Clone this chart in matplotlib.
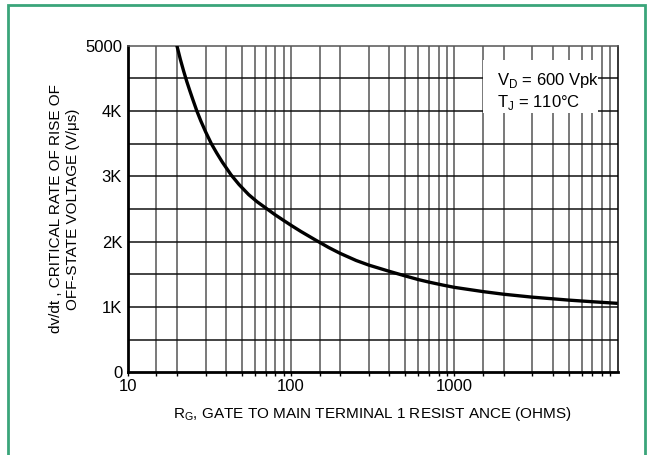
import matplotlib.pyplot as plt
from matplotlib.patches import Rectangle
from matplotlib.ticker import FixedLocator, NullFormatter

# curve
rg_ohms = [20, 21, 22, 23, 24, 25, 26.5, 28, 30, 32.5, 35, 38, 43, 48, 55,
           62, 70, 80, 90, 100, 115, 140, 170, 200, 250, 300, 400, 500, 600,
           700, 850, 1000, 1500, 2000, 3000, 4000, 5000, 7000, 10000]
dvdt = [5000, 4790, 4610, 4450, 4310, 4180, 4000, 3850, 3680, 3500, 3360,
        3215, 3020, 2875, 2720, 2610, 2515, 2410, 2325, 2250, 2155, 2030,
        1910, 1820, 1712, 1640, 1545, 1475, 1420, 1380, 1335, 1300, 1235,
        1195, 1150, 1125, 1105, 1080, 1055]

y_ticks = [0, 1000, 2000, 3000, 4000, 5000]
y_labels = ["0", "1K", "2K", "3K", "4K", "5000"]
x_ticks = [10, 100, 1000]
x_labels = ["10", "100", "1000"]
x_grid = [15, 20, 30, 40, 50, 60, 70, 80, 90, 100,
          150, 200, 300, 400, 500, 600, 700, 800, 900, 1000,
          1500, 2000, 3000, 4000, 5000, 6000, 7000, 8000, 9000]
y_grid = [500, 1000, 1500, 2000, 2500, 3000, 3500, 4000, 4500]

plt.rcParams['font.family'] = ['Liberation Sans Narrow', 'Liberation Sans', 'DejaVu Sans']

fig = plt.figure(figsize=(6.53, 4.55), dpi=100)
fig.patches.append(Rectangle((8 / 653, -0.1), (645 - 8) / 653, 1.1 - 5 / 455,
                             transform=fig.transFigure, fill=False,
                             edgecolor='#3aa57a', linewidth=2))

ax = fig.add_axes([0.1956, 0.1818, 0.7504, 0.7178])
ax.set_xscale('log')
ax.set_xlim(10, 10000)
ax.set_ylim(0, 5000)

for xv in x_grid:
    ax.axvline(xv, color='#555555', linewidth=1.1, zorder=1)
for yv in y_grid:
    ax.axhline(yv, color='#111111', linewidth=1.1, zorder=1)

ax.plot(rg_ohms, dvdt, color='black', linewidth=2.4, zorder=3,
        solid_capstyle='butt', solid_joinstyle='round')

ax.xaxis.set_major_locator(FixedLocator(x_ticks))
ax.xaxis.set_minor_locator(FixedLocator(x_grid))
ax.xaxis.set_minor_formatter(NullFormatter())
ax.set_xticklabels(x_labels)
ax.set_yticks(y_ticks)
ax.set_yticklabels(y_labels)
ax.tick_params(axis='x', which='both', direction='out', length=3, width=1,
               labelsize=12, pad=2)
ax.tick_params(axis='y', length=0, labelsize=12, pad=4)

for s in ['left', 'bottom']:
    ax.spines[s].set_linewidth(2)
ax.spines['top'].set_linewidth(1.1)
ax.spines['top'].set_color('#555555')
ax.spines['right'].set_linewidth(1.1)

# white box behind the conditions note
ax.add_patch(Rectangle((0.725, 0.794), 0.235, 0.162, transform=ax.transAxes,
                       facecolor='white', edgecolor='none', zorder=4))
ax.text(0.754, 0.892, "V$_\\mathregular{D}$ = 600 Vpk", transform=ax.transAxes,
        fontsize=12, va='center', ha='left', zorder=5)
ax.text(0.754, 0.826, "T$_\\mathregular{J}$ = 110°C", transform=ax.transAxes,
        fontsize=12, va='center', ha='left', zorder=5)

ax.set_xlabel("R$_\\mathregular{G}$, GATE TO MAIN TERMINAL 1 RESIST ANCE (OHMS)",
              fontsize=11, labelpad=8)
ax.set_ylabel("dv/dt , CRITICAL RATE OF RISE OF\nOFF-STATE VOLTAGE (V/μs)",
              fontsize=11, labelpad=4, linespacing=1.2)

fig.savefig("out.png", dpi=100)
